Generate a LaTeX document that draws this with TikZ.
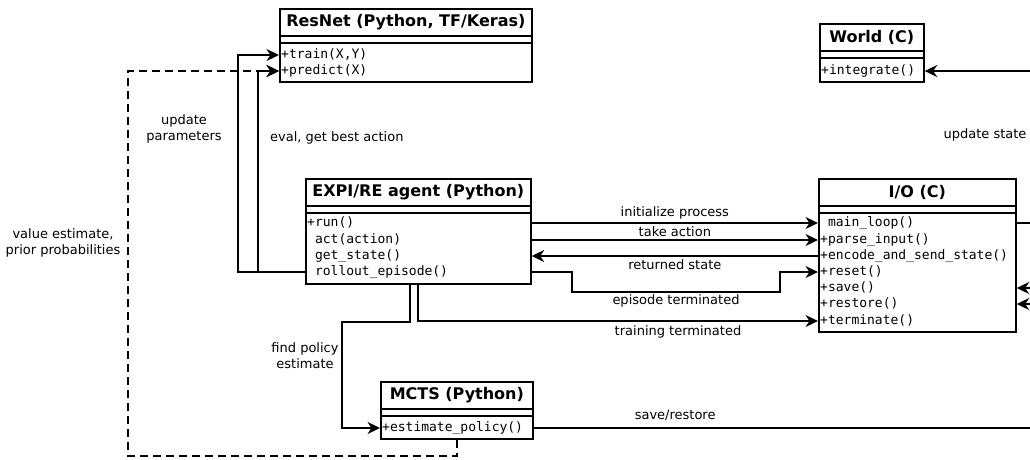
\documentclass[tikz,border=0pt]{standalone}
\usepackage{fontspec}
\setmainfont{DejaVu Sans}
\setmonofont{DejaVu Sans Mono}
\usetikzlibrary{arrows.meta,calc}

\tikzset{
  cls/.style={draw, line width=1.7pt, rectangle, inner sep=0pt, anchor=north west, fill=white},
  ttl/.style={font=\fontsize{16}{19}\selectfont\bfseries, inner sep=0pt},
  mth/.style={font=\ttfamily\fontsize{13}{16}\selectfont, anchor=west, inner sep=0pt, text height=9.5pt, text depth=3pt},
  lbl/.style={font=\fontsize{13}{16.5}\selectfont, inner sep=0pt, align=center, text height=9.5pt, text depth=2.5pt},
  conn/.style={line width=1.7pt},
  arr/.style={conn, -{Stealth[length=12.5pt,width=12pt,inset=4pt]}},
  dashline/.style={dash pattern=on 8pt off 5pt},
  sepline/.style={line width=1.7pt},
}

\begin{document}
\begin{tikzpicture}[x=1pt,y=-1pt]
\useasboundingbox (0,0) rectangle (1030,459);

% routing points
\coordinate (busA) at (238,0);
\coordinate (busB) at (258,0);
\coordinate (dashC) at (128,456);
\coordinate (fp1) at (410,322);
\coordinate (fp2) at (342,322);
\coordinate (tt) at (418,0);
\coordinate (ep1) at (572,292);
\coordinate (ep2) at (780,292);
\coordinate (rim) at (1030,0);

% class boxes
\node[cls, minimum width=252, minimum height=73] (resnet) at (279,8) {};
\node[cls, minimum width=225, minimum height=105] (agent) at (305,178) {};
\node[cls, minimum width=197, minimum height=153] (io) at (818,178) {};
\node[cls, minimum width=104, minimum height=58] (world) at (819,23) {};
\node[cls, minimum width=152, minimum height=57] (mcts) at (380,381) {};

\foreach \b in {resnet,agent,io,world,mcts} {
  \draw[sepline] ($(\b.north west)+(0,28)$) -- ($(\b.north east)+(0,28)$);
  \draw[sepline] ($(\b.north west)+(0,35)$) -- ($(\b.north east)+(0,35)$);
}

% titles
\node[ttl] (resnet-t) at ($(resnet.north)+(0,14)$) {ResNet (Python, TF/Keras)};
\node[ttl] (agent-t) at ($(agent.north)+(0,14)$) {EXPI/RE agent (Python)};
\node[ttl] (io-t) at ($(io.north)+(0,14)$) {I/O (C)};
\node[ttl] (world-t) at ($(world.north)+(0,14)$) {World (C)};
\node[ttl] (mcts-t) at ($(mcts.north)+(0,14)$) {MCTS (Python)};

% operations
\node[mth] (rn-train) at (281,55) {+train(X,Y)};
\node[mth] (rn-pred) at (281,71) {+predict(X)};
\node[mth] (ag-run) at (307,223) {+run()};
\node[mth] (ag-act) at (307,240) {\hphantom{+}act(action)};
\node[mth] (ag-get) at (307,256) {\hphantom{+}get\_state()};
\node[mth] (ag-roll) at (307,272) {\hphantom{+}rollout\_episode()};
\node[mth] (io-main) at (820,223) {\hphantom{+}main\_loop()};
\node[mth] (io-parse) at (820,240) {+parse\_input()};
\node[mth] (io-enc) at (820,256) {+encode\_and\_send\_state()};
\node[mth] (io-reset) at (820,272) {+reset()};
\node[mth] (io-save) at (820,288) {+save()};
\node[mth] (io-restore) at (820,304) {+restore()};
\node[mth] (io-term) at (820,321) {+terminate()};
\node[mth] (w-int) at (821,71) {+integrate()};
\node[mth] (mc-est) at (382,428) {+estimate\_policy()};

% agent -> network
\draw[arr] (agent.west |- ag-roll) -- (busA |- ag-roll) -- (busA |- rn-train) -- (resnet.west |- rn-train);
\draw[arr] (busB |- ag-roll) -- (busB |- rn-pred) -- (resnet.west |- rn-pred);
\draw[arr, dashline] (mcts.south) |- (dashC) |- (resnet.west |- rn-pred);

% agent <-> I/O
\draw[arr] (agent.east |- io-main) -- node[lbl, yshift=10pt] {initialize process} (io.west |- io-main);
\draw[arr] (agent.east |- io-parse) -- node[lbl, yshift=7.5pt] {take action} (io.west |- io-parse);
\draw[arr] (io.west |- io-enc) -- node[lbl, yshift=-9.5pt] {returned state} (agent.east |- io-enc);
\draw[arr] (agent.east |- ag-roll) -- (ep1 |- ag-roll) -- (ep1) -- node[lbl, yshift=-8.5pt] {episode terminated} (ep2) -- (ep2 |- io-reset) -- (io.west |- io-reset);
\draw[arr] (agent.south -| tt) -- (tt |- io-term) -- node[lbl, pos=0.65, yshift=-11pt] {training terminated} (io.west |- io-term);

% agent -> search
\draw[arr] (agent.south -| fp1) -- (fp1) -- (fp2) -- (fp2 |- mc-est) -- (mcts.west |- mc-est);

% links leaving to the right
\draw[conn] (mcts.east |- mc-est) -- node[lbl, pos=0.285, yshift=12pt] {save/restore} (rim |- mc-est);
\draw[conn] (io.east |- io-main) -- (rim |- io-main);
\draw[arr] (rim |- io-save) -- (io.east |- io-save);
\draw[arr] (rim |- io-restore) -- (io.east |- io-restore);
\draw[arr] (rim |- w-int) -- (world.east |- w-int);

% free labels
\node[lbl] (l-upd) at (184,137) {update\\parameters};
\node[lbl, anchor=west] (l-eval) at (270,138) {eval, get best action};
\node[lbl] (l-val) at (63,251) {value estimate,\\prior probabilities};
\node[lbl] (l-find) at (305,365) {find policy\\estimate};
\node[lbl] (l-ust) at (985,135) {update state};
\end{tikzpicture}
\end{document}
